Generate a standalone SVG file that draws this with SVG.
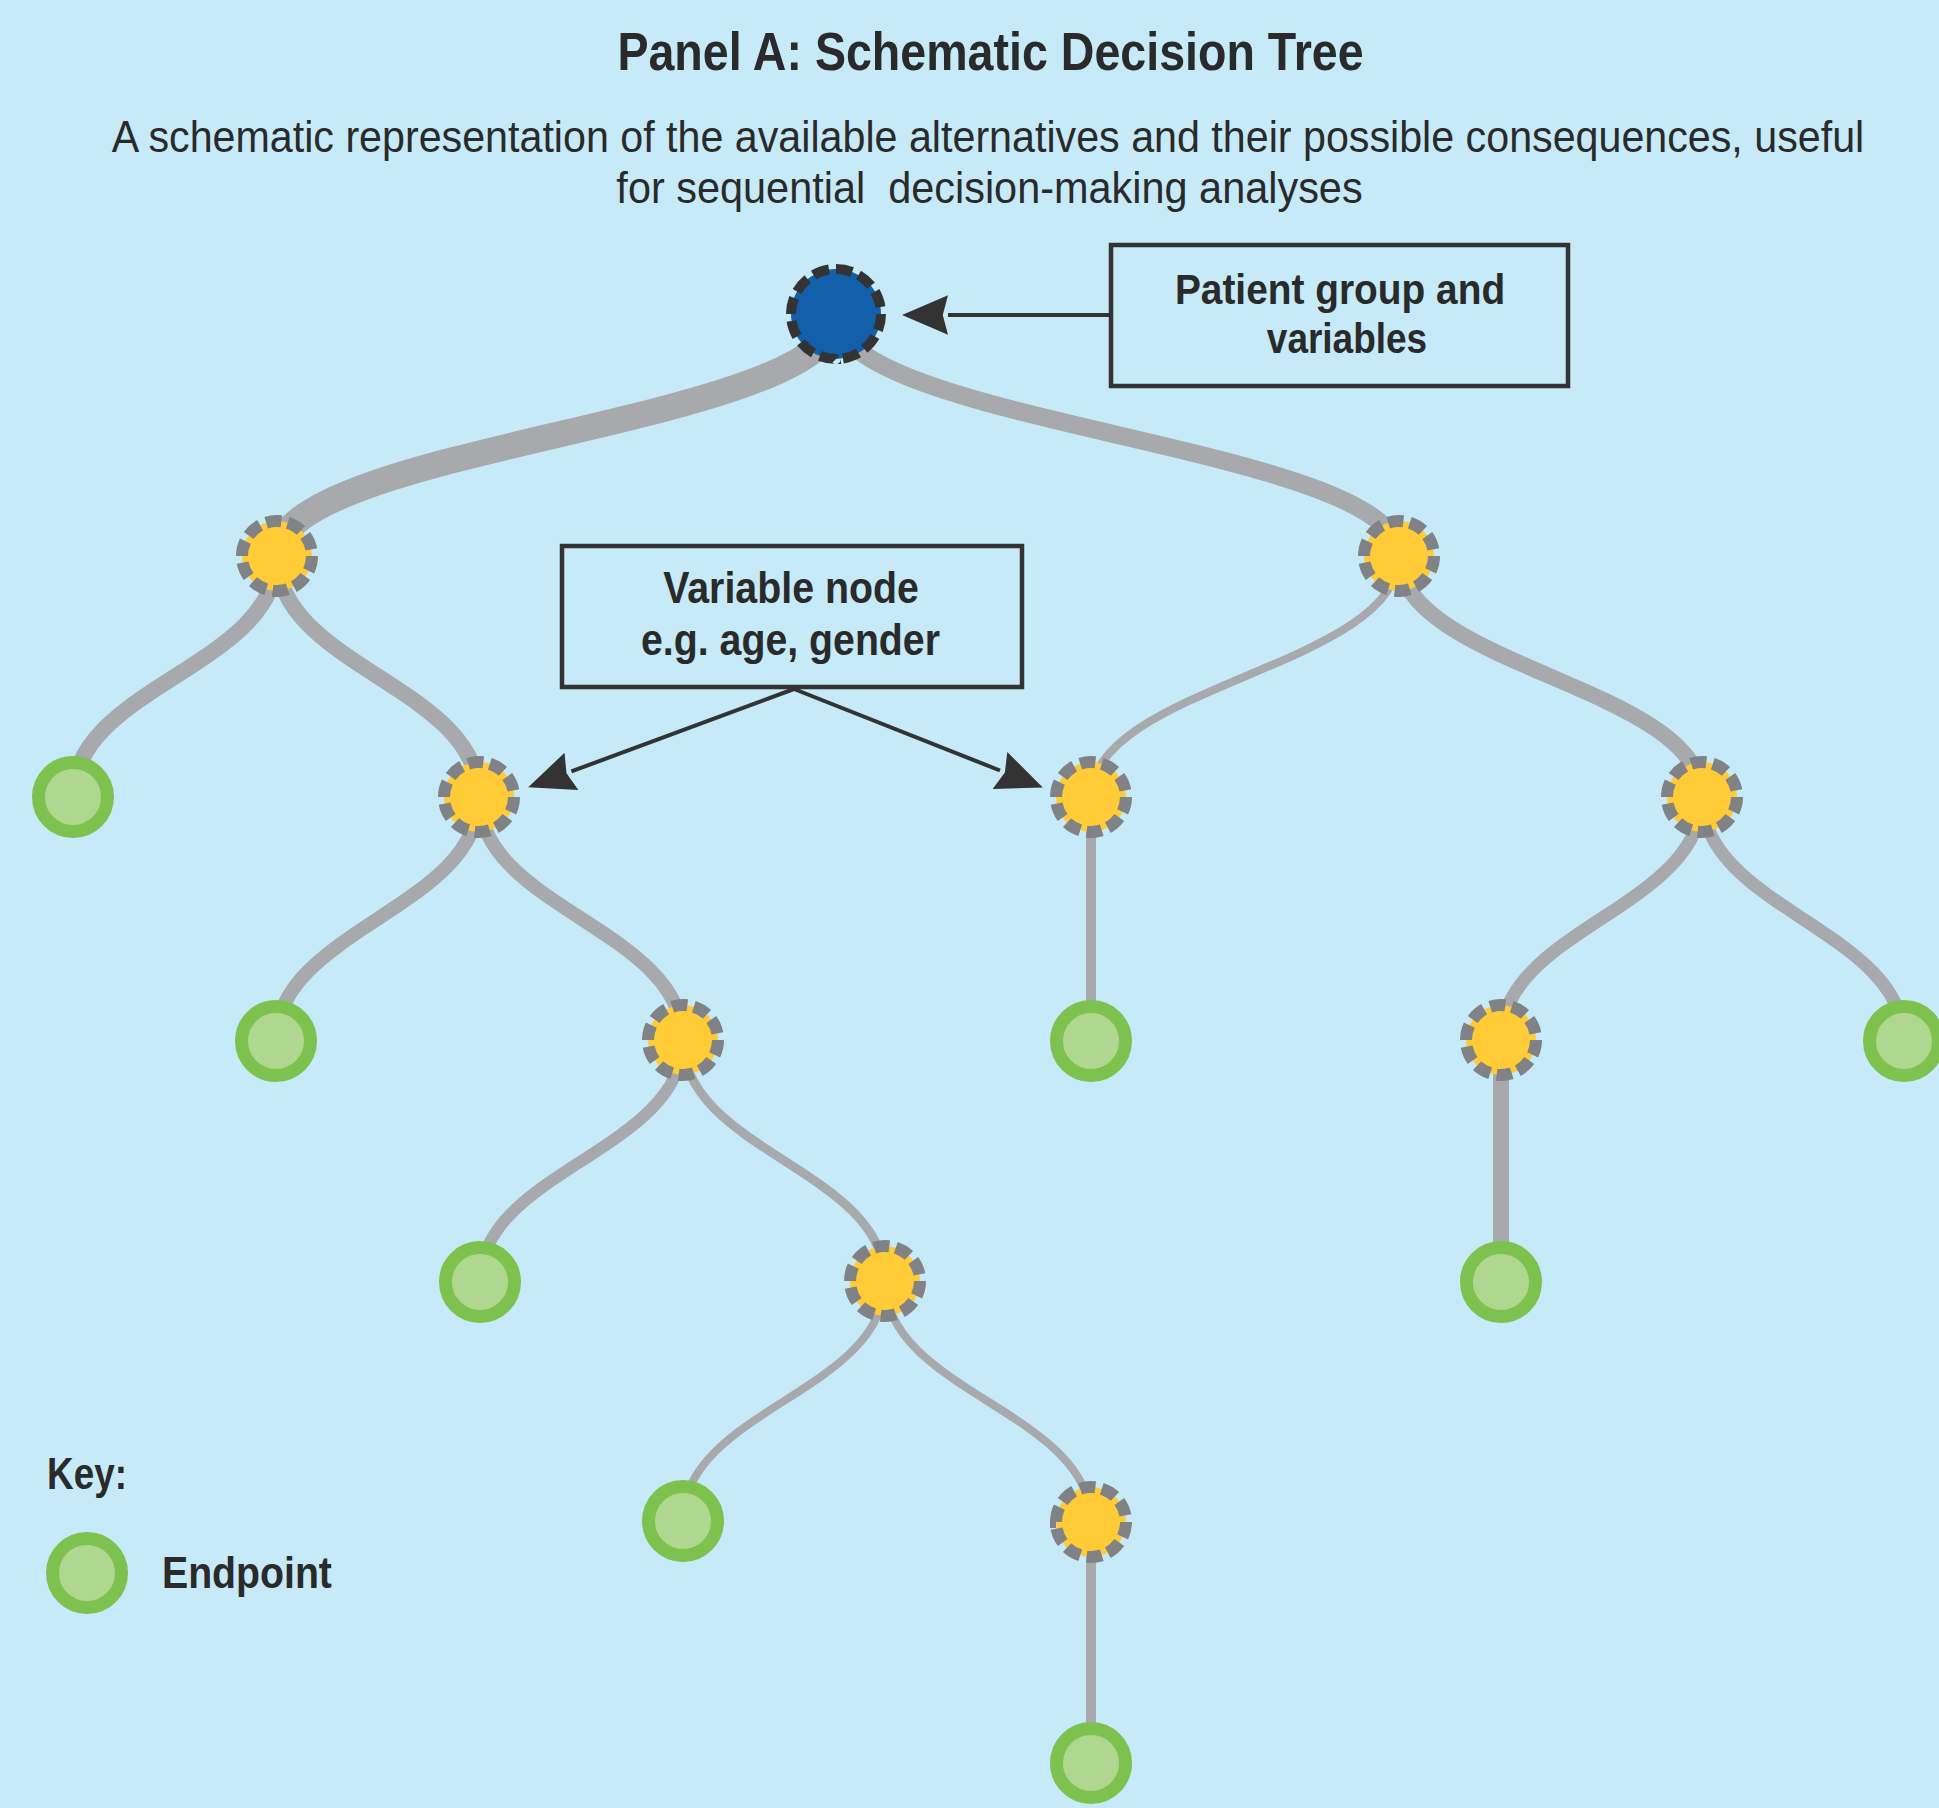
<svg xmlns="http://www.w3.org/2000/svg" width="1939" height="1808" viewBox="0 0 1939 1808">
<defs>
<style>
.bg{fill:#c7eaf9}
.edge{fill:none;stroke:#a7a9ac;stroke-linecap:butt}
.var{fill:#ffcb37;stroke:#808285;stroke-width:12;stroke-dasharray:7 3}
.root{fill:#135fab;stroke:#333333;stroke-width:10;stroke-dasharray:7 3}
.end{fill:#b0d78f;stroke:#7dc24f;stroke-width:13}
.box{fill:none;stroke:#333333;stroke-width:4.5}
.ptr{fill:none;stroke:#333333;stroke-width:4}
.t{font-family:"Liberation Sans",Arial,sans-serif;fill:#2a2a2a}
.title{font-size:53px;font-weight:700}
.sub{font-size:45px;font-weight:400}
.lbl{font-size:45px;font-weight:700}
.lbl43{font-size:43px;font-weight:700}
</style>
<marker id="ah" markerUnits="userSpaceOnUse" markerWidth="46" markerHeight="40" refX="0" refY="19" orient="auto" viewBox="0 0 44 38">
<path d="M0,0 L44,19 L0,38 L5,19 Z" fill="#333333"/>
</marker>
</defs>
<rect class="bg" x="0" y="0" width="1939" height="1808"/>

<g id="title-text">
<text class="t title" text-anchor="middle" transform="translate(990.5,70) scale(0.879,1)">Panel A: Schematic Decision Tree</text>
<text class="t sub" text-anchor="middle" transform="translate(988,152) scale(0.916,1)">A schematic representation of the available alternatives and their possible consequences, useful</text>
<text class="t sub" text-anchor="middle" transform="translate(989.5,203) scale(0.921,1)" xml:space="preserve">for sequential  decision-making analyses</text>
</g>

<g id="connectors">
<path class="edge" stroke-width="26" d="M836,314 C836,425 277,445 277,556"/>
<path class="edge" stroke-width="18" d="M836,314 C836,425 1399,445 1399,556"/>
<path class="edge" stroke-width="16" d="M277,556 C277,667 73,686 73,797"/>
<path class="edge" stroke-width="16" d="M277,556 C277,667 479,686 479,797"/>
<path class="edge" stroke-width="8" d="M1399,556 C1399,667 1091,686 1091,797"/>
<path class="edge" stroke-width="16" d="M1399,556 C1399,667 1702,686 1702,797"/>
<path class="edge" stroke-width="14" d="M479,797 C479,908 276,930 276,1041"/>
<path class="edge" stroke-width="14" d="M479,797 C479,908 683,929 683,1040"/>
<path class="edge" stroke-width="10" d="M1091,797 L1091,1041"/>
<path class="edge" stroke-width="13" d="M1702,797 C1702,908 1501,929 1501,1040"/>
<path class="edge" stroke-width="13" d="M1702,797 C1702,908 1904,930 1904,1041"/>
<path class="edge" stroke-width="12" d="M683,1040 C683,1151 480,1171 480,1282"/>
<path class="edge" stroke-width="9" d="M683,1040 C683,1151 885,1170 885,1281"/>
<path class="edge" stroke-width="16" d="M1501,1040 L1501,1282"/>
<path class="edge" stroke-width="8" d="M885,1281 C885,1392 683,1410 683,1521"/>
<path class="edge" stroke-width="8" d="M885,1281 C885,1392 1091,1411 1091,1522"/>
<path class="edge" stroke-width="10" d="M1091,1522 L1091,1763"/>
<path class="ptr" d="M1109,315 L948,315" marker-end="url(#ah)"/>
<path class="ptr" d="M794,689 L571.4,771.4" marker-end="url(#ah)"/>
<path class="ptr" d="M794,689 L1000,770.5" marker-end="url(#ah)"/>
</g>

<g id="root"><circle class="root" cx="836" cy="314" r="45" pathLength="120"/></g>
<g id="n1a"><circle class="var" cx="277" cy="556" r="35" pathLength="100"/></g>
<g id="n1b"><circle class="var" cx="1399" cy="556" r="35" pathLength="100"/></g>
<g id="e2a"><circle class="end" cx="73" cy="797" r="34.5"/></g>
<g id="n2b"><circle class="var" cx="479" cy="797" r="35" pathLength="100"/></g>
<g id="n2c"><circle class="var" cx="1091" cy="797" r="35" pathLength="100"/></g>
<g id="n2d"><circle class="var" cx="1702" cy="797" r="35" pathLength="100"/></g>
<g id="e3a"><circle class="end" cx="276" cy="1041" r="34.5"/></g>
<g id="n3b"><circle class="var" cx="683" cy="1040" r="35" pathLength="100"/></g>
<g id="e3c"><circle class="end" cx="1091" cy="1041" r="34.5"/></g>
<g id="n3d"><circle class="var" cx="1501" cy="1040" r="35" pathLength="100"/></g>
<g id="e3e"><circle class="end" cx="1904" cy="1041" r="34.5"/></g>
<g id="e4a"><circle class="end" cx="480" cy="1282" r="34.5"/></g>
<g id="n4b"><circle class="var" cx="885" cy="1281" r="35" pathLength="100"/></g>
<g id="e4c"><circle class="end" cx="1501" cy="1282" r="34.5"/></g>
<g id="e5a"><circle class="end" cx="683" cy="1521" r="34.5"/></g>
<g id="n5b"><circle class="var" cx="1091" cy="1522" r="35" pathLength="100"/></g>
<g id="e6a"><circle class="end" cx="1091" cy="1763" r="34.5"/></g>

<g id="patient-box">
<rect class="box" x="1111" y="245" width="457" height="141"/>
<text class="t lbl43" text-anchor="middle" transform="translate(1340,304) scale(0.904,1)">Patient group and</text>
<text class="t lbl43" text-anchor="middle" transform="translate(1347,353) scale(0.86,1)">variables</text>
</g>

<g id="variable-box">
<rect class="box" x="562" y="546" width="460" height="141"/>
<text class="t lbl" text-anchor="middle" transform="translate(791,603) scale(0.874,1)">Variable node</text>
<text class="t lbl" text-anchor="middle" transform="translate(790.5,655) scale(0.873,1)">e.g. age, gender</text>
</g>

<g id="key">
<text class="t lbl" transform="translate(47,1489) scale(0.82,1)">Key:</text>
<circle class="end" cx="87" cy="1573" r="34.5"/>
<text class="t lbl" transform="translate(162,1588) scale(0.872,1)">Endpoint</text>
</g>
</svg>
